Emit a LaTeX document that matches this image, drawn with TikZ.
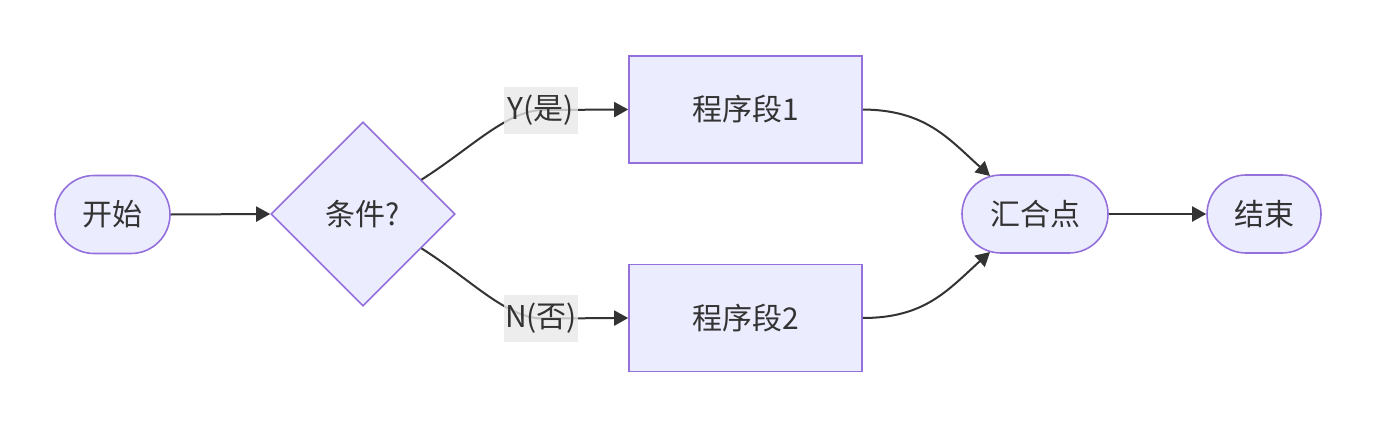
\documentclass[tikz,border=0pt]{standalone}
\usepackage{fontspec}
\newfontfamily\cjk{Noto Sans CJK SC}
\usetikzlibrary{shapes.geometric,arrows.meta,calc}
\definecolor{nfill}{HTML}{ECECFF}
\definecolor{nline}{HTML}{9370DB}
\definecolor{ink}{HTML}{333333}
\definecolor{lblbg}{HTML}{E8E8E8}
\tikzset{
  base/.style={draw=nline, fill=nfill, line width=0.8pt, text=ink, font=\cjk\fontsize{15}{18}\selectfont, inner sep=0pt},
  stadium/.style={base, rectangle, rounded corners=19.5pt, minimum height=39pt},
  boxnode/.style={base, rectangle, minimum width=116.5pt, minimum height=53.5pt},
  decision/.style={base, diamond, minimum width=92pt, minimum height=92pt},
  edgelabel/.style={fill=lblbg, fill opacity=0.8, text opacity=1, text=ink, font=\cjk\fontsize{15}{18}\selectfont, minimum width=37pt, minimum height=23.5pt, inner sep=0pt},
  arr/.style={draw=ink, line width=1pt, -{Triangle[length=7pt,width=7.5pt]}},
}
\begin{document}
\begin{tikzpicture}[x=0.5pt,y=-0.5pt]
\useasboundingbox (0,0) rectangle (1376,428);
\node[stadium, minimum width=57.5pt] (start) at (112.5,214.5) {开始};
\node[decision] (cond) at (363,214) {条件?};
\node[boxnode] (p1) at (745.5,109.5) {程序段1};
\node[boxnode] (p2) at (745.5,318) {程序段2};
\node[stadium, minimum width=73pt] (merge) at (1035,214) {汇合点};
\node[stadium, minimum width=57pt] (end) at (1264,214) {结束};

\coordinate (lyc) at (541,110);
\coordinate (lnc) at (541,318.5);

\draw[arr] (start.east) -- (cond.west);
\draw[arr] (merge.east) -- (end.west);

\draw[arr] ($(cond.east)!0.37!(cond.north)$) .. controls (470,149) and (505,112) .. (lyc) -- (p1.west);
\draw[arr] ($(cond.east)!0.37!(cond.south)$) .. controls (470,279) and (505,317) .. (lnc) -- (p2.west);
\draw[arr] (p1.east) .. controls (925,110) and (948,138) .. ($(merge.center)+(-45,-38)$);
\draw[arr] (p2.east) .. controls (925,318) and (948,290) .. ($(merge.center)+(-45,38)$);

\node[edgelabel] (ly) at (lyc) {Y(是)};
\node[edgelabel] (ln) at (lnc) {N(否)};
\end{tikzpicture}
\end{document}
